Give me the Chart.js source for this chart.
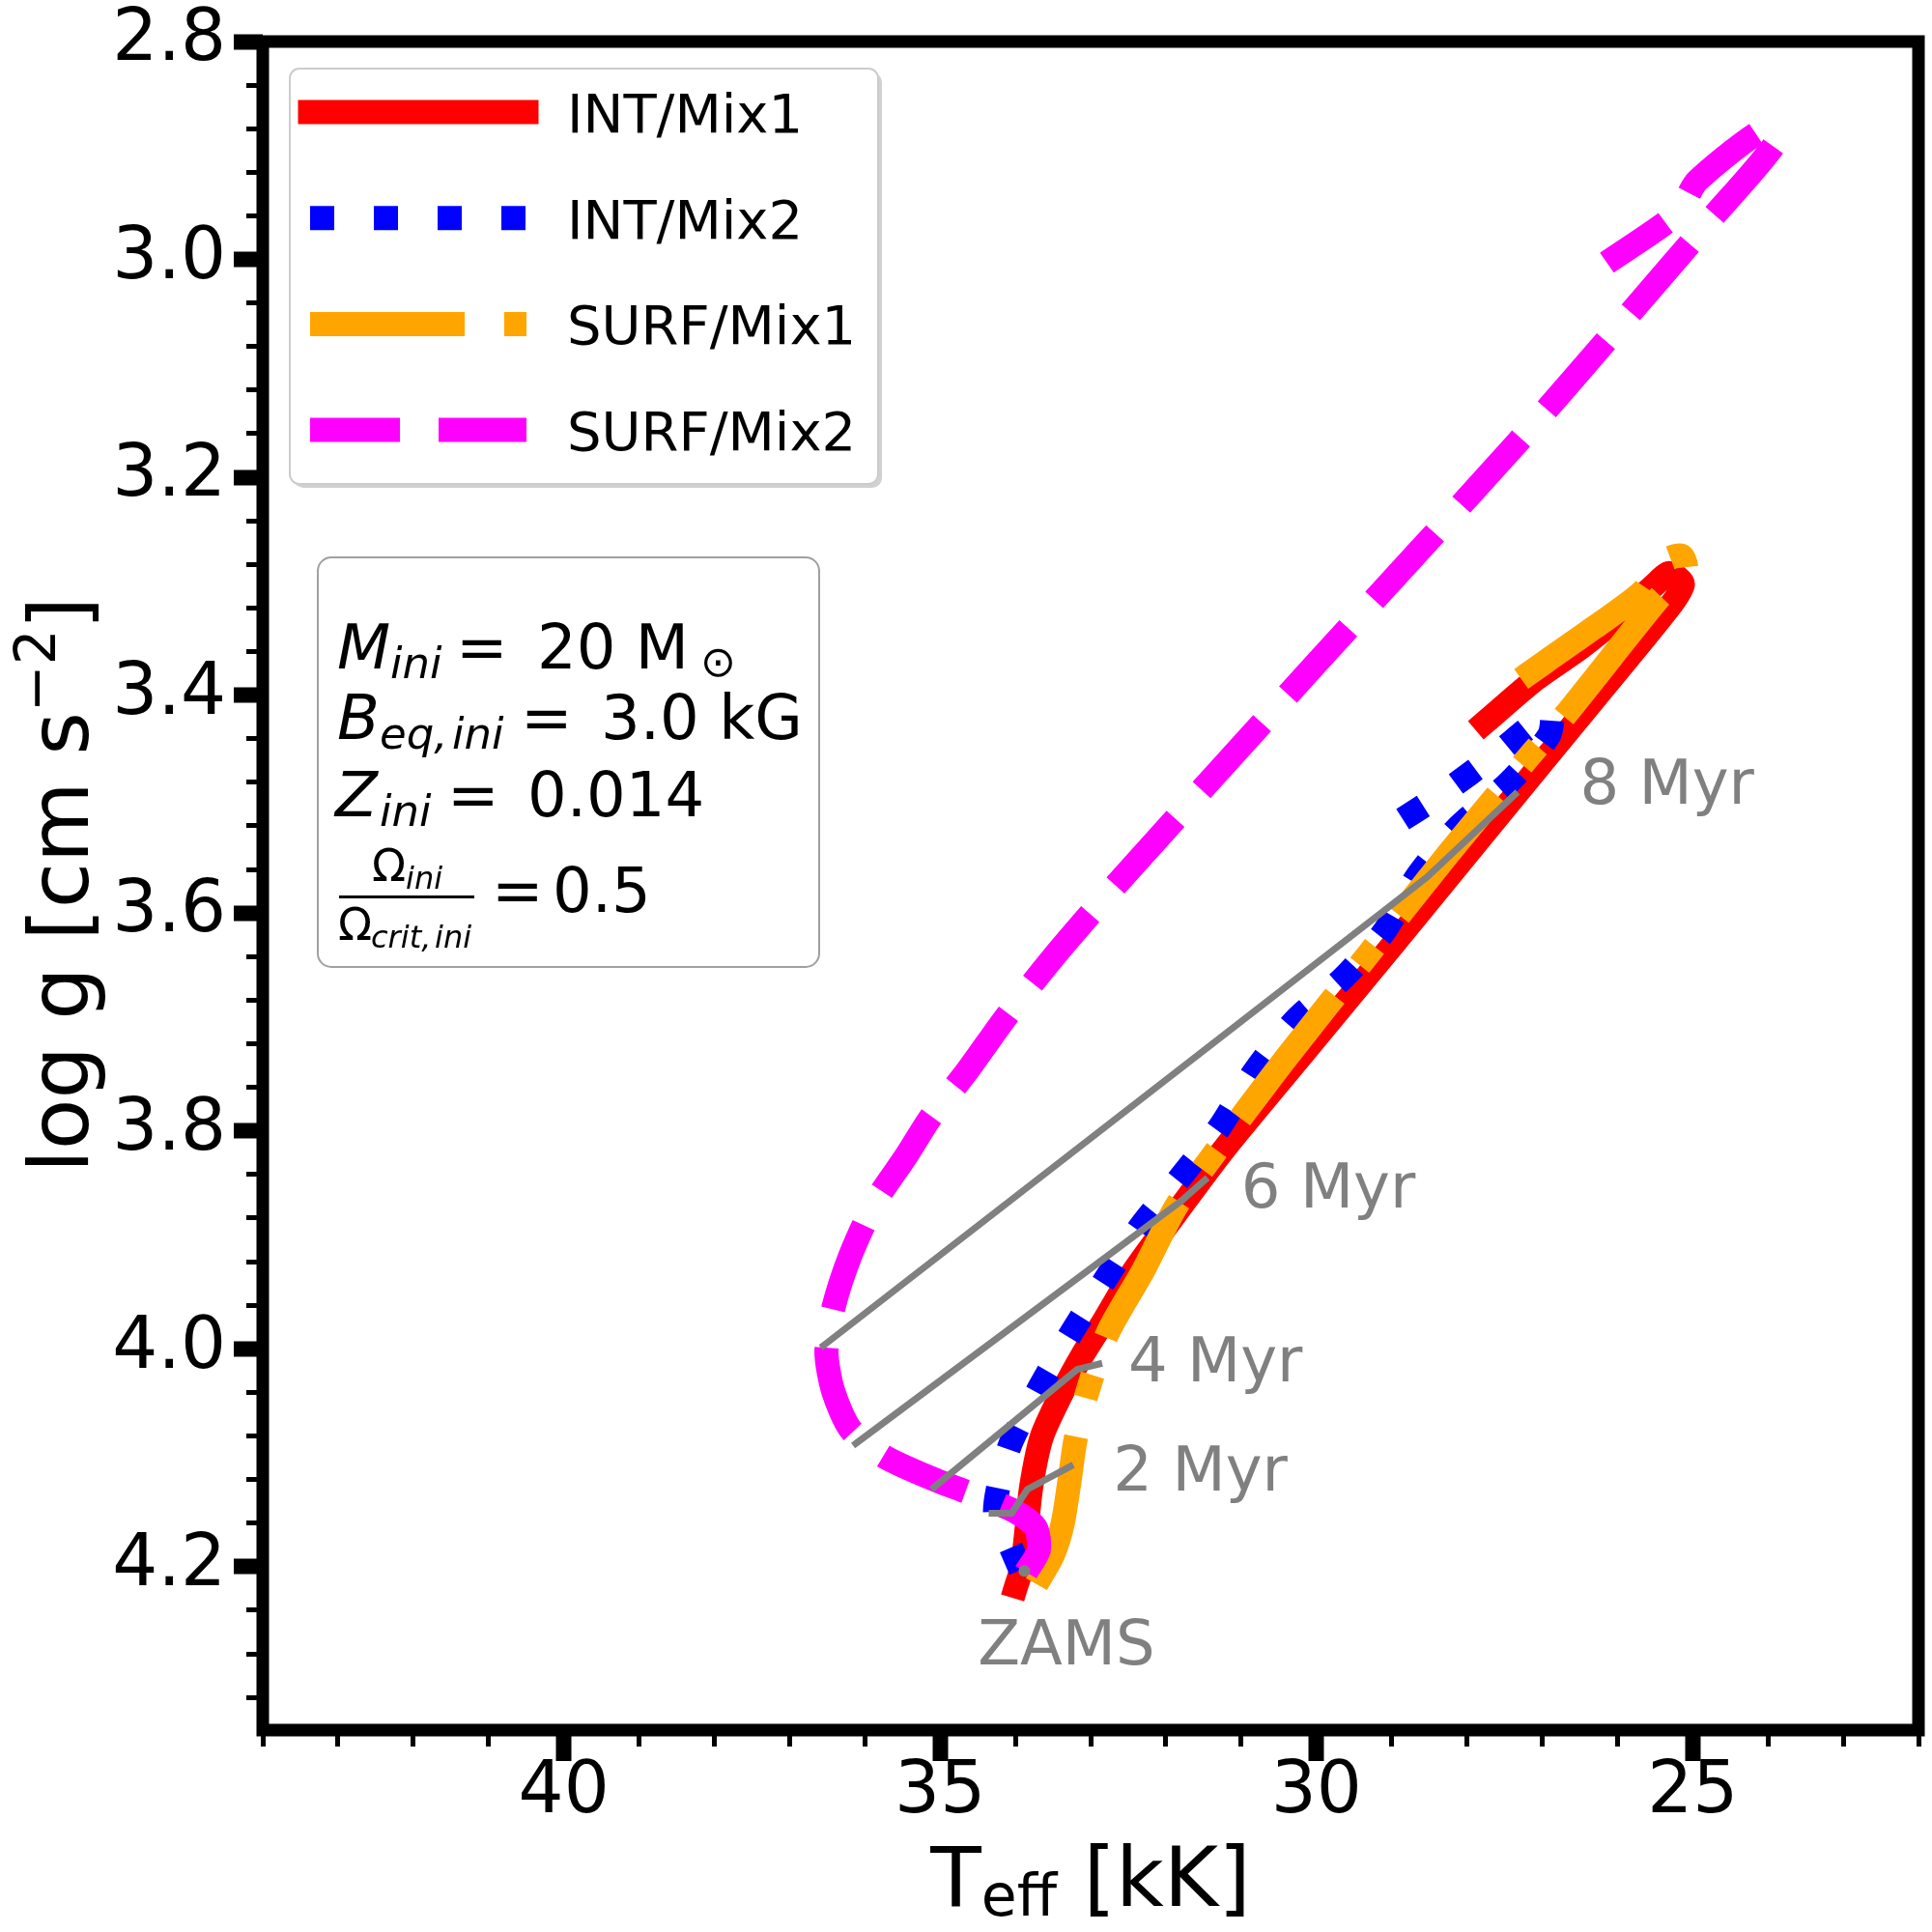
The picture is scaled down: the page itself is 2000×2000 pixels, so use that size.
<!DOCTYPE html>
<html>
<head>
<meta charset="utf-8">
<title>Teff - log g tracks</title>
<script src="https://cdn.jsdelivr.net/npm/chart.js@4.4.1/dist/chart.umd.min.js"></script>
<style>
  html, body { margin: 0; padding: 0; background: #ffffff; }
  #wrap { width: 2000px; height: 2000px; }
</style>
</head>
<body>
<div id="wrap"><canvas id="kielChart" width="2000" height="2000"></canvas></div>
<script>
// ---- tracks (Teff in kK, log g in cgs) ----
const intMix1Teff = [33.99, 33.91, 33.86, 33.79, 33.65, 33.37, 33.11, 32.82, 32.43, 31.87, 31.23, 30.19, 28.97, 27.81, 26.30, 25.32, 25.13, 25.31, 25.51, 25.89, 26.48, 27.08, 27.76];
const intMix1Logg = [4.218, 4.200, 4.172, 4.127, 4.081, 4.039, 4.006, 3.974, 3.929, 3.876, 3.817, 3.730, 3.628, 3.530, 3.403, 3.320, 3.298, 3.288, 3.299, 3.323, 3.356, 3.385, 3.425];

const intMix2Teff = [33.93, 34.08, 34.27, 34.08, 33.69, 33.27, 32.82, 32.34, 31.80, 31.28, 30.83, 30.29, 29.65, 29.10, 28.66, 28.13, 27.44, 26.91, 26.89, 27.63, 28.32, 29.04];
const intMix2Logg = [4.203, 4.179, 4.149, 4.090, 4.037, 3.987, 3.938, 3.888, 3.842, 3.796, 3.746, 3.699, 3.660, 3.617, 3.566, 3.522, 3.480, 3.437, 3.416, 3.455, 3.490, 3.522];

const surfMix1Teff = [33.72, 33.50, 33.37, 33.28, 33.20, 33.05, 32.77, 32.30, 31.87, 31.38, 30.93, 30.38, 29.30, 28.24, 27.17, 26.69, 25.45, 25.09, 25.15, 25.41, 25.67, 26.31, 26.95, 27.46];
const surfMix1Logg = [4.216, 4.189, 4.160, 4.121, 4.083, 4.041, 3.985, 3.928, 3.870, 3.823, 3.781, 3.731, 3.637, 3.545, 3.456, 3.418, 3.311, 3.286, 3.272, 3.278, 3.305, 3.338, 3.369, 3.394];

const surfMix2Teff = [33.86, 33.69, 33.73, 34.01, 34.46, 35.04, 35.74, 36.19, 36.42, 36.51, 36.42, 36.19, 35.87, 35.45, 35.13, 34.65, 34.13, 33.50, 32.70, 30.03, 27.34, 25.89, 24.77, 23.87, 24.02, 24.94, 25.21, 26.14];
const surfMix2Logg = [4.205, 4.185, 4.164, 4.149, 4.136, 4.121, 4.099, 4.074, 4.039, 4.003, 3.963, 3.914, 3.866, 3.823, 3.788, 3.746, 3.696, 3.641, 3.577, 3.373, 3.169, 3.054, 2.964, 2.890, 2.879, 2.928, 2.958, 3.003];

// ---- isochrones ----
const iso8Teff = [36.55, 28.92, 28.53, 27.36];
const iso8Logg = [3.997, 3.588, 3.567, 3.491];
const iso6Teff = [36.12, 31.79, 31.48];
const iso6Logg = [4.087, 3.864, 3.845];
const iso4Teff = [35.08, 33.18, 32.89];
const iso4Logg = [4.127, 4.019, 4.014];
const iso2Teff = [34.31, 34.05, 33.84, 33.27];
const iso2Logg = [4.151, 4.151, 4.129, 4.108];
const zamsTeff = [33.88];
const zamsLogg = [4.204];

const ageLabels = ['8 Myr', '6 Myr', '4 Myr', '2 Myr', 'ZAMS'];
const ageLabelTeff = [26.5, 31.0, 32.5, 32.7, 34.5];
const ageLabelLogg = [3.50, 3.87, 4.03, 4.13, 4.29];

// ---- axes ----
const xMajorTicks = [40, 35, 30, 25];
const xMinorTicks = [44, 43, 42, 41, 39, 38, 37, 36, 34, 33, 32, 31, 29, 28, 27, 26, 24, 23, 22];
const yMajorTicks = [2.8, 3.0, 3.2, 3.4, 3.6, 3.8, 4.0, 4.2];
const yMinorTicks = [2.84, 2.88, 2.92, 2.96, 3.04, 3.08, 3.12, 3.16, 3.24, 3.28, 3.32, 3.36,
                     3.44, 3.48, 3.52, 3.56, 3.64, 3.68, 3.72, 3.76, 3.84, 3.88, 3.92, 3.96,
                     4.04, 4.08, 4.12, 4.16, 4.24, 4.28, 4.32];

const FONT = '"DejaVu Sans", "Liberation Sans", sans-serif';
const GREY = '#808080';

function toPoints(xs, ys) {
    return xs.map((x, i) => ({ x: x, y: ys[i] }));
}

function track(label, xs, ys, color, dash, cap, order) {
    return {
        label: label,
        data: toPoints(xs, ys),
        showLine: true,
        borderColor: color,
        backgroundColor: color,
        borderWidth: 25,
        borderDash: dash,
        borderCapStyle: cap,
        borderJoinStyle: 'round',
        tension: 0.25,
        pointRadius: 0,
        order: order,
        inLegend: true
    };
}

function isochrone(xs, ys) {
    return {
        label: '',
        data: toPoints(xs, ys),
        showLine: true,
        borderColor: GREY,
        borderWidth: 7,
        borderCapStyle: 'square',
        borderJoinStyle: 'round',
        tension: 0,
        pointRadius: 0,
        order: 1
    };
}

const datasets = [
    track('INT/Mix1', intMix1Teff, intMix1Logg, '#ff0000', [], 'square', 5),
    track('INT/Mix2', intMix2Teff, intMix2Logg, '#0000ff', [25, 41], 'butt', 4),
    track('SURF/Mix1', surfMix1Teff, surfMix1Logg, '#ffa500', [160, 41, 25, 41], 'butt', 3),
    track('SURF/Mix2', surfMix2Teff, surfMix2Logg, '#ff00ff', [93, 40], 'butt', 2),
    isochrone(iso8Teff, iso8Logg),
    isochrone(iso6Teff, iso6Logg),
    isochrone(iso4Teff, iso4Logg),
    isochrone(iso2Teff, iso2Logg),
    {
        label: '',
        data: toPoints(zamsTeff, zamsLogg),
        showLine: false,
        pointRadius: 6,
        pointBorderWidth: 0,
        backgroundColor: GREY,
        borderColor: GREY,
        order: 0
    }
];

// draws a run of text pieces (italic / sub / sup) left to right
function richWidth(ctx, parts) {
    let w = 0;
    parts.forEach(p => {
        ctx.font = (p.italic ? 'italic ' : '') + p.size + 'px ' + FONT;
        w += ctx.measureText(p.t).width;
    });
    return w;
}

function drawRich(ctx, x, y, parts) {
    let cx = x;
    parts.forEach(p => {
        ctx.font = (p.italic ? 'italic ' : '') + p.size + 'px ' + FONT;
        const px = p.x !== undefined ? p.x : cx;
        ctx.fillText(p.t, px, y + (p.dy || 0));
        cx = px + ctx.measureText(p.t).width;
    });
}

function roundRect(ctx, x, y, w, h, r) {
    ctx.beginPath();
    ctx.moveTo(x + r, y);
    ctx.arcTo(x + w, y, x + w, y + h, r);
    ctx.arcTo(x + w, y + h, x, y + h, r);
    ctx.arcTo(x, y + h, x, y, r);
    ctx.arcTo(x, y, x + w, y, r);
    ctx.closePath();
}

function drawLegend(ctx, chart) {
    const items = chart.data.datasets.filter(ds => ds.inLegend);
    ctx.save();
    ctx.fillStyle = 'rgba(0,0,0,0.18)';
    roundRect(ctx, 304, 75, 609, 430, 10);
    ctx.fill();
    ctx.fillStyle = '#ffffff';
    roundRect(ctx, 300, 71, 609, 430, 10);
    ctx.fill();
    ctx.strokeStyle = '#cccccc';
    ctx.lineWidth = 2;
    ctx.stroke();

    items.forEach((ds, i) => {
        const y = 116 + i * 109.7;
        ctx.save();
        ctx.strokeStyle = ds.borderColor;
        ctx.lineWidth = ds.borderWidth;
        ctx.lineCap = ds.borderCapStyle;
        ctx.setLineDash(ds.borderDash);
        ctx.beginPath();
        ctx.moveTo(321, y);
        ctx.lineTo(545, y);
        ctx.stroke();
        ctx.restore();
        ctx.fillStyle = '#000000';
        ctx.font = '56px ' + FONT;
        ctx.textBaseline = 'alphabetic';
        ctx.fillText(ds.label, 587, y + 21);
    });
    ctx.restore();
}

function drawInfoBox(ctx) {
    ctx.save();
    ctx.fillStyle = '#ffffff';
    roundRect(ctx, 329, 577, 519, 424, 14);
    ctx.fill();
    ctx.strokeStyle = '#a0a0a0';
    ctx.lineWidth = 2;
    ctx.stroke();

    ctx.fillStyle = '#000000';
    ctx.textBaseline = 'alphabetic';
    drawRich(ctx, 0, 692, [
        { t: 'M', size: 64, italic: true, x: 349 },
        { t: 'ini', size: 45, italic: true, dy: 10, x: 404 },
        { t: '=', size: 64, x: 472 },
        { t: '20 M', size: 64, x: 556 },
        { t: '\u2299', size: 44, dy: 8, x: 725 }
    ]);
    drawRich(ctx, 0, 765, [
        { t: 'B', size: 64, italic: true, x: 349 },
        { t: 'eq,', size: 45, italic: true, dy: 10, x: 393 },
        { t: 'ini', size: 45, italic: true, dy: 10, x: 468 },
        { t: '=', size: 64, x: 539 },
        { t: '3.0 kG', size: 64, x: 622 }
    ]);
    drawRich(ctx, 0, 845, [
        { t: 'Z', size: 64, italic: true, x: 347 },
        { t: 'ini', size: 45, italic: true, dy: 10, x: 393 },
        { t: '=', size: 64, x: 463 },
        { t: '0.014', size: 64, x: 546 }
    ]);
    // fraction Omega_ini / Omega_crit,ini
    drawRich(ctx, 0, 912, [
        { t: '\u03A9', size: 46, x: 385 },
        { t: 'ini', size: 32, italic: true, dy: 8, x: 420 }
    ]);
    ctx.fillRect(351, 927, 140, 3);
    drawRich(ctx, 0, 973, [
        { t: '\u03A9', size: 46, x: 350 },
        { t: 'crit,', size: 32, italic: true, dy: 8, x: 384 },
        { t: 'ini', size: 32, italic: true, dy: 8, x: 450 }
    ]);
    drawRich(ctx, 0, 944, [
        { t: '=', size: 64, x: 509 },
        { t: '0.5', size: 64, x: 572 }
    ]);
    ctx.restore();
}

function drawTitles(ctx) {
    ctx.save();
    ctx.fillStyle = '#000000';
    ctx.textBaseline = 'alphabetic';
    const xParts = [
        { t: 'T', size: 86 },
        { t: 'eff', size: 60, dy: 10 },
        { t: ' [kK]', size: 86 }
    ];
    drawRich(ctx, 1129 - richWidth(ctx, xParts) / 2, 1973, xParts);

    const yParts = [
        { t: 'log g [cm s', size: 86 },
        { t: '\u22122', size: 58, dy: -34 },
        { t: ']', size: 86 }
    ];
    ctx.translate(91, 916);
    ctx.rotate(-Math.PI / 2);
    drawRich(ctx, -richWidth(ctx, yParts) / 2, 0, yParts);
    ctx.restore();
}

const overlayPlugin = {
    id: 'overlay',
    afterDatasetsDraw(chart) {
        const { ctx, chartArea } = chart;
        const xs = chart.scales.x;
        const ys = chart.scales.y;
        ctx.save();
        // frame (spines)
        ctx.strokeStyle = '#000000';
        ctx.lineWidth = 13;
        ctx.lineJoin = 'miter';
        ctx.strokeRect(chartArea.left, chartArea.top,
            chartArea.right - chartArea.left, chartArea.bottom - chartArea.top);
        // age labels
        ctx.fillStyle = GREY;
        ctx.font = '64px ' + FONT;
        ctx.textBaseline = 'alphabetic';
        ageLabels.forEach((t, i) => {
            ctx.fillText(t, xs.getPixelForValue(ageLabelTeff[i]), ys.getPixelForValue(ageLabelLogg[i]));
        });
        ctx.restore();
    },
    afterDraw(chart) {
        const ctx = chart.ctx;
        drawLegend(ctx, chart);
        drawInfoBox(ctx);
        drawTitles(ctx);
    }
};

const tickFont = { family: FONT, size: 74, lineHeight: 0.9 };

new Chart(document.getElementById('kielChart'), {
    type: 'scatter',
    data: { datasets },
    plugins: [overlayPlugin],
    options: {
        responsive: false,
        devicePixelRatio: 1,
        animation: false,
        events: [],
        layout: { padding: { left: 0, top: 43, right: 14, bottom: 0 } },
        plugins: {
            legend: { display: false },
            tooltip: { enabled: false }
        },
        scales: {
            x: {
                type: 'linear', position: 'bottom', min: 22, max: 44, reverse: true, weight: 1,
                afterBuildTicks: s => { s.ticks = xMajorTicks.map(v => ({ value: v })); },
                afterFit: s => { s.height = 209; },
                border: { display: false },
                grid: { drawOnChartArea: false, drawTicks: true, tickLength: 32, tickWidth: 16, tickColor: '#000' },
                ticks: { color: '#000', font: tickFont, padding: 0, maxRotation: 0, autoSkip: false,
                         callback: v => String(v) }
            },
            xMinor: {
                type: 'linear', position: 'bottom', min: 22, max: 44, reverse: true, weight: 0,
                afterBuildTicks: s => { s.ticks = xMinorTicks.map(v => ({ value: v })); },
                afterFit: s => { s.height = 0; },
                border: { display: false },
                grid: { drawOnChartArea: false, drawTicks: true, tickLength: 17, tickWidth: 5, tickColor: '#000' },
                ticks: { display: false }
            },
            y: {
                type: 'linear', position: 'left', min: 2.8, max: 4.35, reverse: true, weight: 1,
                afterBuildTicks: s => { s.ticks = yMajorTicks.map(v => ({ value: v })); },
                afterFit: s => { s.width = 272; },
                border: { display: false },
                grid: { drawOnChartArea: false, drawTicks: true, tickLength: 30, tickWidth: 16, tickColor: '#000' },
                ticks: { color: '#000', font: tickFont, padding: 8, autoSkip: false,
                         callback: v => v.toFixed(1) }
            },
            yMinor: {
                type: 'linear', position: 'left', min: 2.8, max: 4.35, reverse: true, weight: 0,
                afterBuildTicks: s => { s.ticks = yMinorTicks.map(v => ({ value: v })); },
                afterFit: s => { s.width = 0; },
                border: { display: false },
                grid: { drawOnChartArea: false, drawTicks: true, tickLength: 17, tickWidth: 5, tickColor: '#000' },
                ticks: { display: false }
            }
        }
    }
});
</script>
</body>
</html>
